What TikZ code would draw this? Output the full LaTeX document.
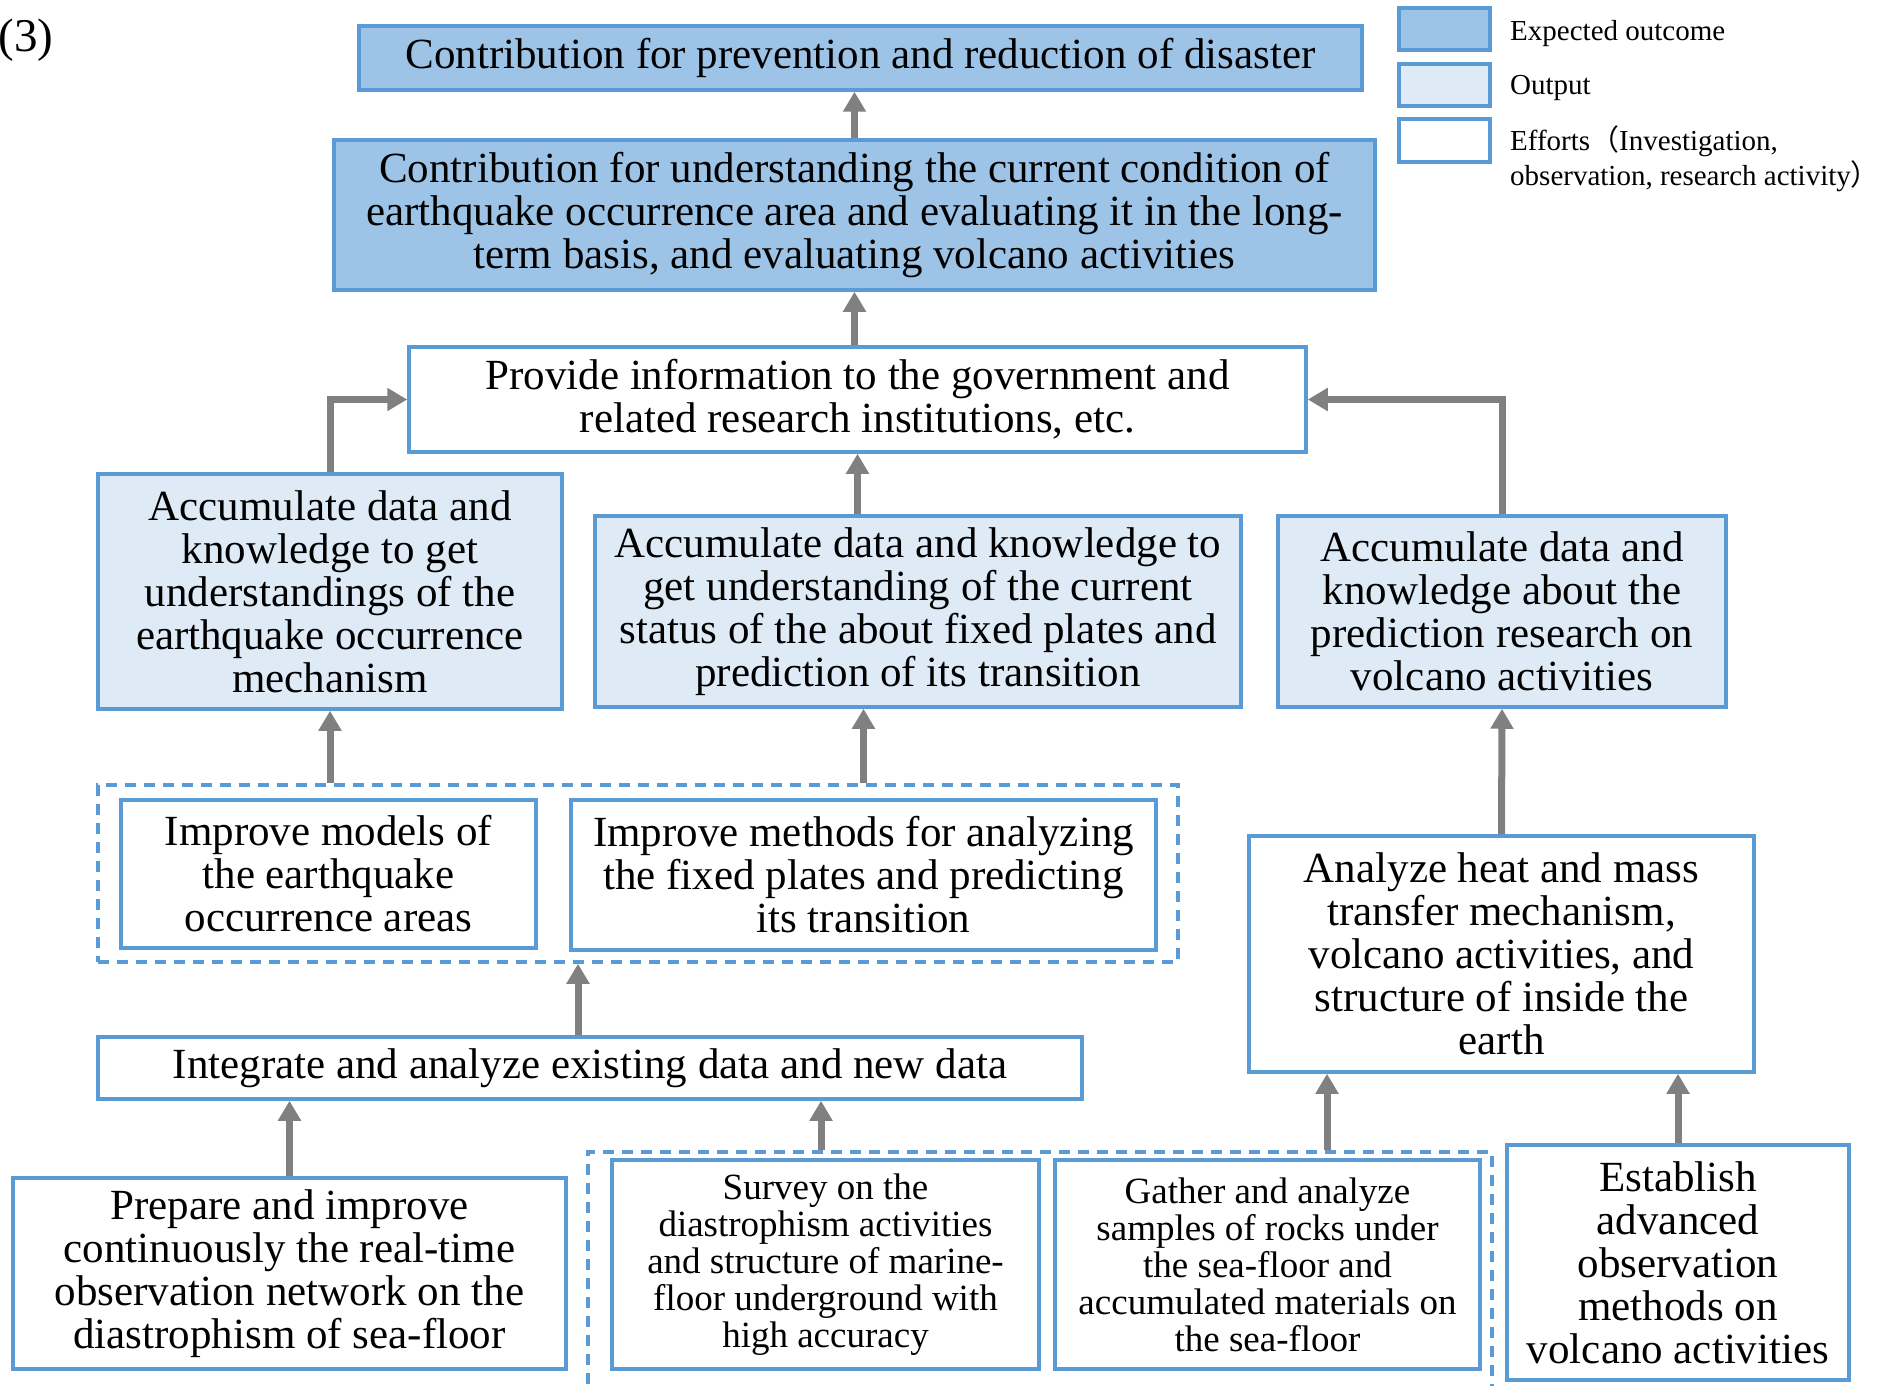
\documentclass[tikz,border=0pt]{standalone}
\usepackage{fontspec}
\setmainfont{Liberation Serif}
\newfontfamily\cjk{Noto Sans CJK SC}
\usetikzlibrary{arrows.meta}
\definecolor{bord}{HTML}{5B9BD5}
\definecolor{expfill}{HTML}{9DC3E6}
\definecolor{outfill}{HTML}{DEEBF7}
\definecolor{arrgray}{HTML}{808080}
\tikzset{
  box/.style={draw=bord, line width=3.5pt, inner sep=0pt, align=center, font=\fontsize{43}{43}\selectfont},
  expbox/.style={box, fill=expfill},
  outbox/.style={box, fill=outfill},
  effbox/.style={box, fill=white},
  smallbox/.style={effbox, font=\fontsize{37}{37}\selectfont},
  dashbox/.style={draw=bord, line width=3.5pt, dash pattern=on 11pt off 8pt, inner sep=0pt},
  arr/.style={draw=arrgray, line width=7pt, -{Triangle[length=20pt,width=22pt]}},
  legtext/.style={anchor=west, inner sep=0pt, align=left, font=\fontsize{29}{35}\selectfont}
}
\begin{document}
\begin{tikzpicture}[x=1pt,y=-1pt]
\useasboundingbox[fill=white] (0,0) rectangle (1881,1386);
\node[inner sep=0pt, font=\fontsize{47}{50}\selectfont] (lab) at (26,40) {(3)};

% legend
\node[expbox, minimum width=91pt, minimum height=42pt] (lg1) at (1444.5,29) {};
\node[outbox, minimum width=91pt, minimum height=42pt] (lg2) at (1444.5,85) {};
\node[effbox, minimum width=91pt, minimum height=43pt] (lg3) at (1444.5,140.5) {};
\node[legtext] (lt1) at (1510,34) {Expected outcome};
\node[legtext] (lt2) at (1510,88) {Output};
\node[legtext] (lt3) at (1510,159) {Efforts{\cjk （}Investigation,\\observation, research activity{\cjk ）}};

% main nodes
\node[expbox, minimum width=1003pt, minimum height=64pt] (A) at (860.5,58)
  {Contribution for prevention and reduction of disaster};
\node[expbox, minimum width=1041pt, minimum height=150pt] (B) at (854.5,215)
  {Contribution for understanding the current condition of\\earthquake occurrence area and evaluating it in the long-\\term basis, and evaluating volcano activities};
\node[effbox, minimum width=897pt, minimum height=105pt] (C) at (857.5,399.5)
  {Provide information to the government and\\related research institutions, etc.};
\node[outbox, minimum width=464pt, minimum height=235pt] (D1) at (330,591.5)
  {Accumulate data and\\knowledge to get\\understandings of the\\earthquake occurrence\\mechanism};
\node[outbox, minimum width=646pt, minimum height=191pt] (D2) at (918,611.5)
  {Accumulate data and knowledge to\\get understanding of the current\\status of the about fixed plates and\\prediction of its transition};
\node[outbox, minimum width=448pt, minimum height=191pt] (D3) at (1502,611.5)
  {Accumulate data and\\knowledge about the\\prediction research on\\volcano activities};

\node[dashbox, minimum width=1080pt, minimum height=177pt] (E) at (638,873.5) {};
\node[effbox, minimum width=415pt, minimum height=148pt] (E1) at (328.5,874)
  {Improve models of\\the earthquake\\occurrence areas};
\node[effbox, minimum width=585pt, minimum height=150pt] (E2) at (863.5,875)
  {Improve methods for analyzing\\the fixed plates and predicting\\its transition};

\node[effbox, minimum width=984pt, minimum height=62pt] (F) at (590,1068)
  {Integrate and analyze existing data and new data};
\node[effbox, minimum width=505pt, minimum height=236pt] (G) at (1501.5,954)
  {Analyze heat and mass\\transfer mechanism,\\volcano activities, and\\structure of inside the\\earth};

\node[effbox, minimum width=553pt, minimum height=191pt] (H1) at (289.5,1273.5)
  {Prepare and improve\\continuously the real-time\\observation network on the\\diastrophism of sea-floor};
\node[dashbox, minimum width=904pt, minimum height=270pt] (I) at (1040,1287) {};
\node[smallbox, minimum width=427pt, minimum height=209pt] (I1) at (825.5,1264.5)
  {Survey on the\\diastrophism activities\\and structure of marine-\\floor underground with\\high accuracy};
\node[smallbox, minimum width=425pt, minimum height=209pt] (I2) at (1267.5,1264.5)
  {Gather and analyze\\samples of rocks under\\the sea-floor and\\accumulated materials on\\the sea-floor};
\node[effbox, minimum width=342pt, minimum height=235pt] (H2) at (1678,1262.5)
  {Establish\\advanced\\observation\\methods on\\volcano activities};

\coordinate (xf) at (578,0);
\coordinate (xif) at (821,0);
\coordinate (xig) at (1327,0);

% arrows
\draw[arr] (B.north) -- (B.north |- A.south);
\draw[arr] (C.north -| B) -- (B.south);
\draw[arr] (C.south |- D2.north) -- (C.south);
\draw[arr] (D1.north) |- (C.west);
\draw[arr] (D3.north) |- (C.east);
\draw[arr] (D1.south |- E.north) -- (D1.south);
\draw[arr] (E2 |- E.north) -- (E2 |- D2.south);
\draw[arr] (xf |- F.north) -- (xf |- E.south);
\draw[arr] (H1.north) -- (H1.north |- F.south);
\draw[arr] (xif |- I.north) -- (xif |- F.south);
\draw[arr] (xig |- I.north) -- (xig |- G.south);
\draw[arr] (H2.north) -- (H2.north |- G.south);
\draw[arr] (G.north) -- (D3.south);
\end{tikzpicture}
\end{document}
